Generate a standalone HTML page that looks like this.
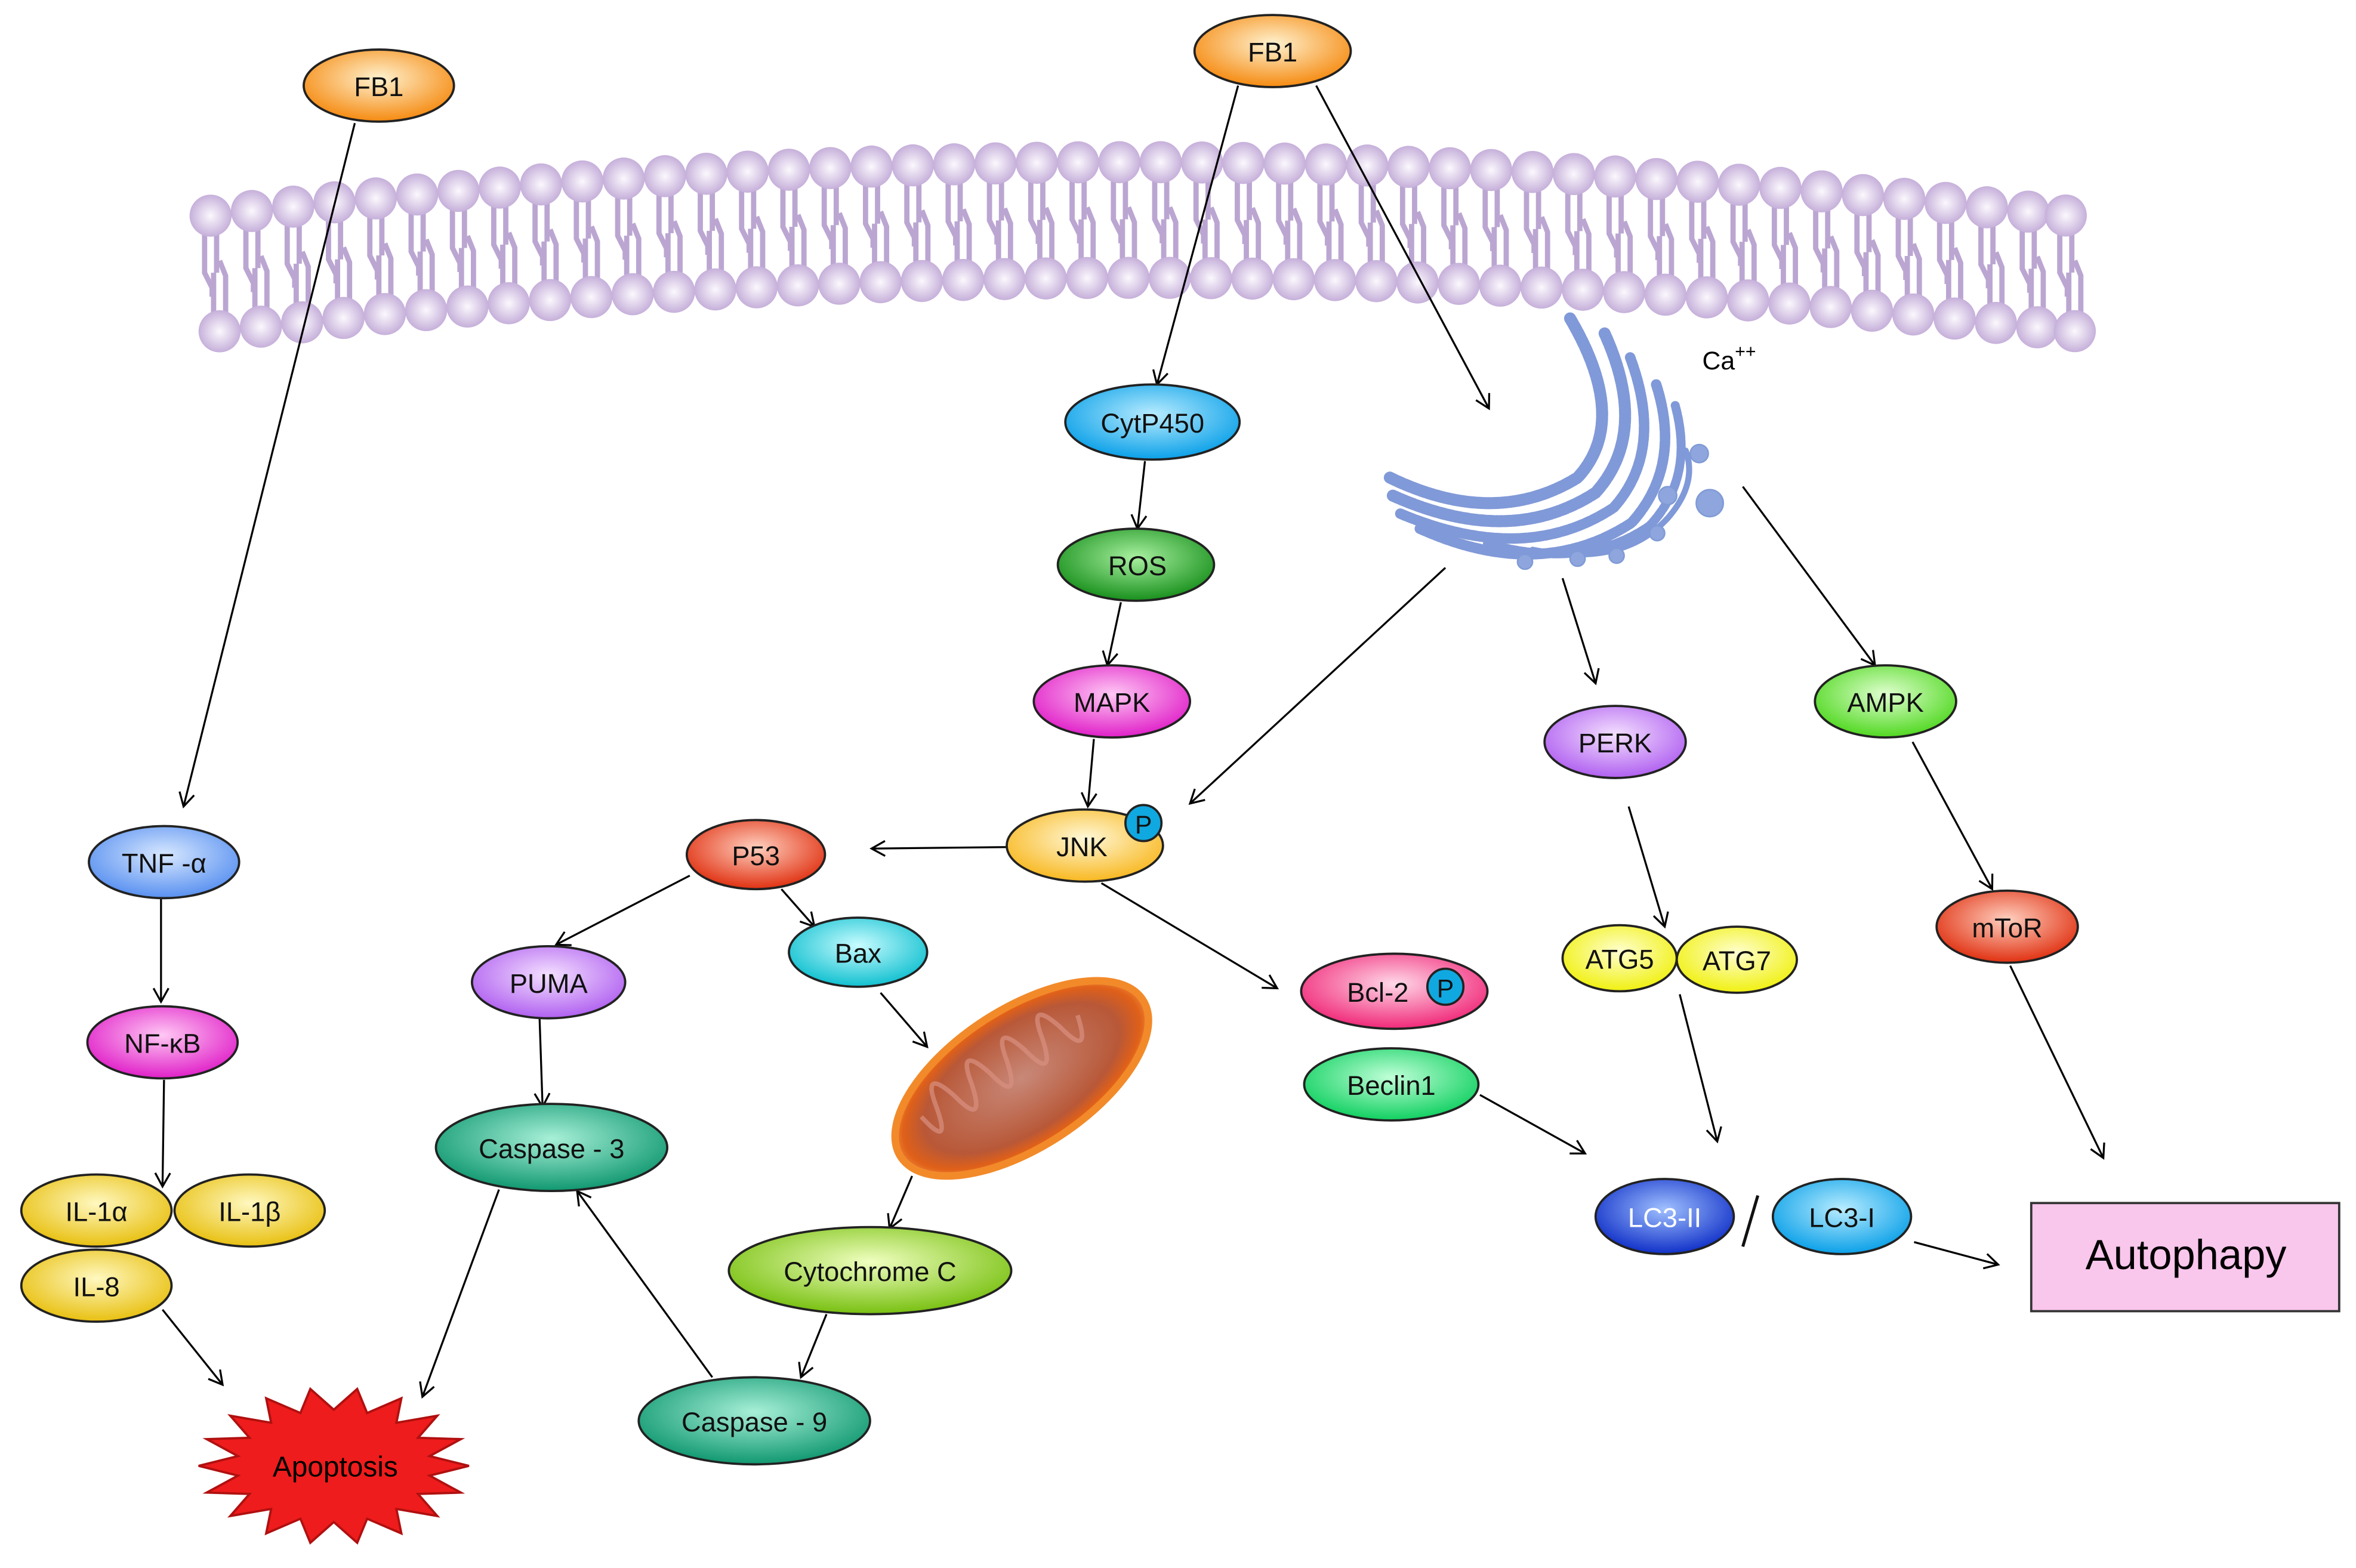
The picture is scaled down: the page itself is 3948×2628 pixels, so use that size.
<!DOCTYPE html>
<html><head><meta charset="utf-8"><style>
html,body{margin:0;padding:0;background:#fff;}
svg{display:block;}
text{font-family:"Liberation Sans",sans-serif;}
</style></head><body>
<svg width="3948" height="2628" viewBox="0 0 1568 1044" xmlns="http://www.w3.org/2000/svg" xmlns:xlink="http://www.w3.org/1999/xlink">
<defs>
<marker id="ar" markerWidth="14" markerHeight="14" refX="10" refY="6" orient="auto" markerUnits="userSpaceOnUse">
<path d="M1,1 L10,6 L1,11" fill="none" stroke="#000" stroke-width="1.3"/>
</marker>
<radialGradient id="head" cx="50%" cy="50%" r="50%"><stop offset="0" stop-color="#fbf8fd"/><stop offset="1" stop-color="#c6b0da"/></radialGradient>
<g id="lip">
<path d="M-4,10 l0,28 l5,10 l0,6 M4,10 l0,28 M2,66 l0,-28 M10,66 l0,-26 l-4,-10" stroke="#bba6d2" stroke-width="3.5" fill="none"/>
<circle cx="0" cy="0" r="14" fill="url(#head)"/>
<circle cx="6" cy="77" r="14" fill="url(#head)"/>
</g>
<radialGradient id="gOr" cx="50%" cy="40%" r="60%"><stop offset="0" stop-color="#fff2d0"/><stop offset="1" stop-color="#f58a10"/></radialGradient>
<radialGradient id="gBl" cx="50%" cy="40%" r="60%"><stop offset="0" stop-color="#b8ecff"/><stop offset="1" stop-color="#0aa0e8"/></radialGradient>
<radialGradient id="gGr" cx="50%" cy="40%" r="60%"><stop offset="0" stop-color="#a8f0a0"/><stop offset="1" stop-color="#18901c"/></radialGradient>
<radialGradient id="gMa" cx="50%" cy="40%" r="60%"><stop offset="0" stop-color="#ffc8f4"/><stop offset="1" stop-color="#e020c8"/></radialGradient>
<radialGradient id="gYo" cx="50%" cy="40%" r="60%"><stop offset="0" stop-color="#fff8d8"/><stop offset="1" stop-color="#f8b820"/></radialGradient>
<radialGradient id="gRd" cx="50%" cy="40%" r="60%"><stop offset="0" stop-color="#ffd0c0"/><stop offset="1" stop-color="#e03010"/></radialGradient>
<radialGradient id="gPu" cx="50%" cy="40%" r="60%"><stop offset="0" stop-color="#f4e0ff"/><stop offset="1" stop-color="#b060f0"/></radialGradient>
<radialGradient id="gCy" cx="50%" cy="40%" r="60%"><stop offset="0" stop-color="#c8fcff"/><stop offset="1" stop-color="#10c0d0"/></radialGradient>
<radialGradient id="gTe" cx="50%" cy="40%" r="60%"><stop offset="0" stop-color="#a8f0d8"/><stop offset="1" stop-color="#109870"/></radialGradient>
<radialGradient id="gLi" cx="50%" cy="40%" r="60%"><stop offset="0" stop-color="#f0ffc0"/><stop offset="1" stop-color="#78c010"/></radialGradient>
<radialGradient id="gTb" cx="50%" cy="40%" r="60%"><stop offset="0" stop-color="#d8e8ff"/><stop offset="1" stop-color="#5890f0"/></radialGradient>
<radialGradient id="gYe" cx="50%" cy="40%" r="60%"><stop offset="0" stop-color="#fff8c0"/><stop offset="1" stop-color="#e8c010"/></radialGradient>
<radialGradient id="gY2" cx="50%" cy="40%" r="60%"><stop offset="0" stop-color="#ffffd0"/><stop offset="1" stop-color="#f0f010"/></radialGradient>
<radialGradient id="gPk" cx="50%" cy="40%" r="60%"><stop offset="0" stop-color="#ffd8e8"/><stop offset="1" stop-color="#f02878"/></radialGradient>
<radialGradient id="gEm" cx="50%" cy="40%" r="60%"><stop offset="0" stop-color="#c0ffd8"/><stop offset="1" stop-color="#10d060"/></radialGradient>
<radialGradient id="gLg" cx="50%" cy="40%" r="60%"><stop offset="0" stop-color="#e0ffd0"/><stop offset="1" stop-color="#50d820"/></radialGradient>
<radialGradient id="gDb" cx="50%" cy="40%" r="60%"><stop offset="0" stop-color="#a0c0ff"/><stop offset="1" stop-color="#1030c8"/></radialGradient>
<radialGradient id="gMi" cx="50%" cy="50%" r="55%"><stop offset="0" stop-color="#c88878"/><stop offset="0.7" stop-color="#b85838"/><stop offset="0.85" stop-color="#e06018"/><stop offset="1" stop-color="#ffb060"/></radialGradient>
</defs>

<!-- membrane -->
<g>
<use xlink:href="#lip" x="140" y="143.6"/><use xlink:href="#lip" x="167.5" y="140.5"/><use xlink:href="#lip" x="195" y="137.6"/><use xlink:href="#lip" x="222.5" y="134.7"/>
<use xlink:href="#lip" x="250" y="132.1"/><use xlink:href="#lip" x="277.5" y="129.5"/><use xlink:href="#lip" x="305" y="127.1"/><use xlink:href="#lip" x="332.5" y="124.9"/>
<use xlink:href="#lip" x="360" y="122.8"/><use xlink:href="#lip" x="387.5" y="120.8"/><use xlink:href="#lip" x="415" y="118.9"/><use xlink:href="#lip" x="442.5" y="117.3"/>
<use xlink:href="#lip" x="470" y="115.7"/><use xlink:href="#lip" x="497.5" y="114.3"/><use xlink:href="#lip" x="525" y="113"/><use xlink:href="#lip" x="552.5" y="111.9"/>
<use xlink:href="#lip" x="580" y="110.9"/><use xlink:href="#lip" x="607.5" y="110.1"/><use xlink:href="#lip" x="635" y="109.4"/><use xlink:href="#lip" x="662.5" y="108.8"/>
<use xlink:href="#lip" x="690" y="108.4"/><use xlink:href="#lip" x="717.5" y="108.1"/><use xlink:href="#lip" x="745" y="108"/><use xlink:href="#lip" x="772.5" y="108"/>
<use xlink:href="#lip" x="800" y="108.2"/><use xlink:href="#lip" x="827.5" y="108.5"/><use xlink:href="#lip" x="855" y="108.9"/><use xlink:href="#lip" x="882.5" y="109.5"/>
<use xlink:href="#lip" x="910" y="110.2"/><use xlink:href="#lip" x="937.5" y="111.1"/><use xlink:href="#lip" x="965" y="112"/><use xlink:href="#lip" x="992.5" y="113.2"/>
<use xlink:href="#lip" x="1020" y="114.5"/><use xlink:href="#lip" x="1047.5" y="115.9"/><use xlink:href="#lip" x="1075" y="117.5"/><use xlink:href="#lip" x="1102.5" y="119.2"/>
<use xlink:href="#lip" x="1130" y="121"/><use xlink:href="#lip" x="1157.5" y="123"/><use xlink:href="#lip" x="1185" y="125.1"/><use xlink:href="#lip" x="1212.5" y="127.4"/>
<use xlink:href="#lip" x="1240" y="129.9"/><use xlink:href="#lip" x="1267.5" y="132.4"/><use xlink:href="#lip" x="1295" y="135.1"/><use xlink:href="#lip" x="1322.5" y="138"/>
<use xlink:href="#lip" x="1350" y="140.9"/><use xlink:href="#lip" x="1375" y="143.5"/>
</g>

<!-- Golgi -->
<g fill="none" stroke="#8099d8" stroke-linecap="round">
<path d="M925,318 Q995,352 1050,318 Q1085,280 1045,212" stroke-width="8" stroke-dasharray="4 1.5"/>
<path d="M927,330 Q1005,365 1062,328 Q1098,288 1068,222" stroke-width="8" stroke-dasharray="4 1.5"/>
<path d="M932,342 Q1015,377 1074,338 Q1108,300 1085,238" stroke-width="7" stroke-dasharray="4 1.5"/>
<path d="M945,352 Q1025,388 1086,348 Q1120,310 1102,255" stroke-width="7" stroke-dasharray="4 1.5"/>
<path d="M990,362 Q1055,380 1098,350 Q1128,318 1115,270" stroke-width="6" stroke-dasharray="4 1.5"/>
<path d="M1020,366 Q1080,378 1110,345 Q1130,322 1122,300" stroke-width="4"/>
</g>
<g fill="#8ea6dd" stroke="#7f9ad6">
<circle cx="1131" cy="302" r="6"/><circle cx="1138" cy="335" r="9"/><circle cx="1110" cy="330" r="6"/><circle cx="1103" cy="355" r="5"/>
<circle cx="1015" cy="374" r="5"/><circle cx="1050" cy="372" r="5"/><circle cx="1076" cy="370" r="5"/>
</g>
<text x="1133" y="246" font-size="17">Ca<tspan font-size="12" dy="-8">++</tspan></text>

<!-- arrows -->
<g stroke="#000" stroke-width="1.3" fill="none" marker-end="url(#ar)">
<line x1="236" y1="82" x2="122" y2="537"/>
<line x1="824" y1="57" x2="770" y2="256"/>
<line x1="876" y1="57" x2="991" y2="272"/>
<line x1="762" y1="307" x2="757" y2="352"/>
<line x1="746" y1="401" x2="737" y2="443"/>
<line x1="728" y1="492" x2="724" y2="537"/>
<line x1="962" y1="378" x2="792" y2="535"/>
<line x1="1040" y1="385" x2="1062" y2="455"/>
<line x1="1160" y1="324" x2="1248" y2="443"/>
<line x1="670" y1="564" x2="580" y2="565"/>
<line x1="733" y1="588" x2="850" y2="658"/>
<line x1="459" y1="583" x2="370" y2="629"/>
<line x1="520" y1="592" x2="542" y2="617"/>
<line x1="359" y1="678" x2="361" y2="737"/>
<line x1="586" y1="661" x2="617" y2="697"/>
<line x1="607" y1="783" x2="592" y2="818"/>
<line x1="550" y1="875" x2="533" y2="917"/>
<line x1="474" y1="917" x2="384" y2="793"/>
<line x1="332" y1="792" x2="281" y2="930"/>
<line x1="108" y1="872" x2="148" y2="922"/>
<line x1="107" y1="598" x2="107" y2="667"/>
<line x1="109" y1="719" x2="108" y2="790"/>
<line x1="1084" y1="537" x2="1108" y2="617"/>
<line x1="1118" y1="662" x2="1143" y2="760"/>
<line x1="1273" y1="494" x2="1326" y2="592"/>
<line x1="1338" y1="643" x2="1400" y2="771"/>
<line x1="985" y1="729" x2="1055" y2="768"/>
<line x1="1274" y1="827" x2="1330" y2="842"/>
</g>

<!-- mitochondrion -->
<g transform="translate(680,718) rotate(-33)">
<ellipse rx="96" ry="46" fill="url(#gMi)" stroke="#f28a2a" stroke-width="5"/>
<path d="M-70,-15 q5,30 12,0 q6,-28 14,0 q6,30 14,0 q6,-28 14,0 q6,30 14,0 q6,-28 14,0 q6,30 14,0 q6,-28 14,0 q6,30 14,0" fill="none" stroke="#d89080" stroke-width="3" opacity="0.7"/>
</g>

<!-- apoptosis star -->
<polygon fill="#ee1c1c" stroke="#b01010" stroke-width="1.5" points="312,976 285.8,982.5 306.6,993.8 278.1,994.7 290.9,1009.4 263.7,1004.7 267,1021 244.2,1011.2 237.6,1027.2 222,1013.4 206.4,1027.2 199.8,1011.2 177,1021 180.3,1004.7 153.1,1009.4 165.9,994.7 137.4,993.8 158.2,982.5 132,976 158.2,969.5 137.4,958.2 165.9,957.3 153.1,942.6 180.3,947.3 177,931 199.8,940.8 206.4,924.8 222,938.6 237.6,924.8 244.2,940.8 267,931 263.7,947.3 290.9,942.6 278.1,957.3 306.6,958.2 285.8,969.5"/>
<text x="223" y="983" font-size="19" text-anchor="middle">Apoptosis</text>

<g stroke="#222" stroke-width="1.5">
<ellipse cx="252" cy="57" rx="50" ry="24" fill="url(#gOr)"/>
<ellipse cx="847" cy="34" rx="52" ry="24" fill="url(#gOr)"/>
<ellipse cx="767" cy="281" rx="58" ry="25" fill="url(#gBl)"/>
<ellipse cx="756" cy="376" rx="52" ry="24" fill="url(#gGr)"/>
<ellipse cx="740" cy="467" rx="52" ry="24" fill="url(#gMa)"/>
<ellipse cx="722" cy="563" rx="52" ry="24" fill="url(#gYo)"/>
<ellipse cx="503" cy="569" rx="46" ry="23" fill="url(#gRd)"/>
<ellipse cx="365" cy="654" rx="51" ry="24" fill="url(#gPu)"/>
<ellipse cx="571" cy="634" rx="46" ry="23" fill="url(#gCy)"/>
<ellipse cx="367" cy="764" rx="77" ry="29" fill="url(#gTe)"/>
<ellipse cx="579" cy="846" rx="94" ry="29" fill="url(#gLi)"/>
<ellipse cx="502" cy="946" rx="77" ry="29" fill="url(#gTe)"/>
<ellipse cx="109" cy="574" rx="50" ry="24" fill="url(#gTb)"/>
<ellipse cx="108" cy="694" rx="50" ry="24" fill="url(#gMa)"/>
<ellipse cx="166" cy="806" rx="50" ry="24" fill="url(#gYe)"/>
<ellipse cx="64" cy="806" rx="50" ry="24" fill="url(#gYe)"/>
<ellipse cx="64" cy="856" rx="50" ry="24" fill="url(#gYe)"/>
<ellipse cx="1075" cy="494" rx="47" ry="24" fill="url(#gPu)"/>
<ellipse cx="1255" cy="467" rx="47" ry="24" fill="url(#gLg)"/>
<ellipse cx="1156" cy="639" rx="40" ry="22" fill="url(#gY2)"/>
<ellipse cx="1078" cy="638" rx="38" ry="22" fill="url(#gY2)"/>
<ellipse cx="1336" cy="617" rx="47" ry="24" fill="url(#gRd)"/>
<ellipse cx="928" cy="660" rx="62" ry="25" fill="url(#gPk)"/>
<ellipse cx="926" cy="722" rx="58" ry="24" fill="url(#gEm)"/>
<ellipse cx="1108" cy="810" rx="46" ry="25" fill="url(#gDb)"/>
<ellipse cx="1226" cy="810" rx="46" ry="25" fill="url(#gBl)"/>
<circle cx="761" cy="548" r="12" fill="#10a8e0"/>
<circle cx="962" cy="657" r="12" fill="#10a8e0"/>
</g>
<g font-size="18" text-anchor="middle" fill="#111">
<text x="252" y="64">FB1</text>
<text x="847" y="41">FB1</text>
<text x="767" y="288">CytP450</text>
<text x="757" y="383">ROS</text>
<text x="740" y="474">MAPK</text>
<text x="720" y="570">JNK</text>
<text x="761" y="555" font-size="17">P</text>
<text x="503" y="576">P53</text>
<text x="365" y="661">PUMA</text>
<text x="571" y="641">Bax</text>
<text x="367" y="771">Caspase - 3</text>
<text x="579" y="853">Cytochrome C</text>
<text x="502" y="953">Caspase - 9</text>
<text x="109" y="581">TNF -α</text>
<text x="108" y="701">NF-κB</text>
<text x="64" y="813">IL-1α</text>
<text x="166" y="813">IL-1β</text>
<text x="64" y="863">IL-8</text>
<text x="1075" y="501">PERK</text>
<text x="1255" y="474">AMPK</text>
<text x="1078" y="645">ATG5</text>
<text x="1156" y="646">ATG7</text>
<text x="1336" y="624">mToR</text>
<text x="917" y="667">Bcl-2</text>
<text x="962" y="664" font-size="17">P</text>
<text x="926" y="729">Beclin1</text>
<text x="1108" y="817" fill="#fff">LC3-II</text>
<text x="1226" y="817">LC3-I</text>
</g>
<line x1="1160" y1="830" x2="1170" y2="796" stroke="#111" stroke-width="2"/>
<rect x="1352" y="801" width="205" height="72" fill="#f9c6ec" stroke="#333" stroke-width="1.5"/>
<text x="1455" y="845" font-size="28" text-anchor="middle">Autophapy</text>
</svg>
</body></html>
